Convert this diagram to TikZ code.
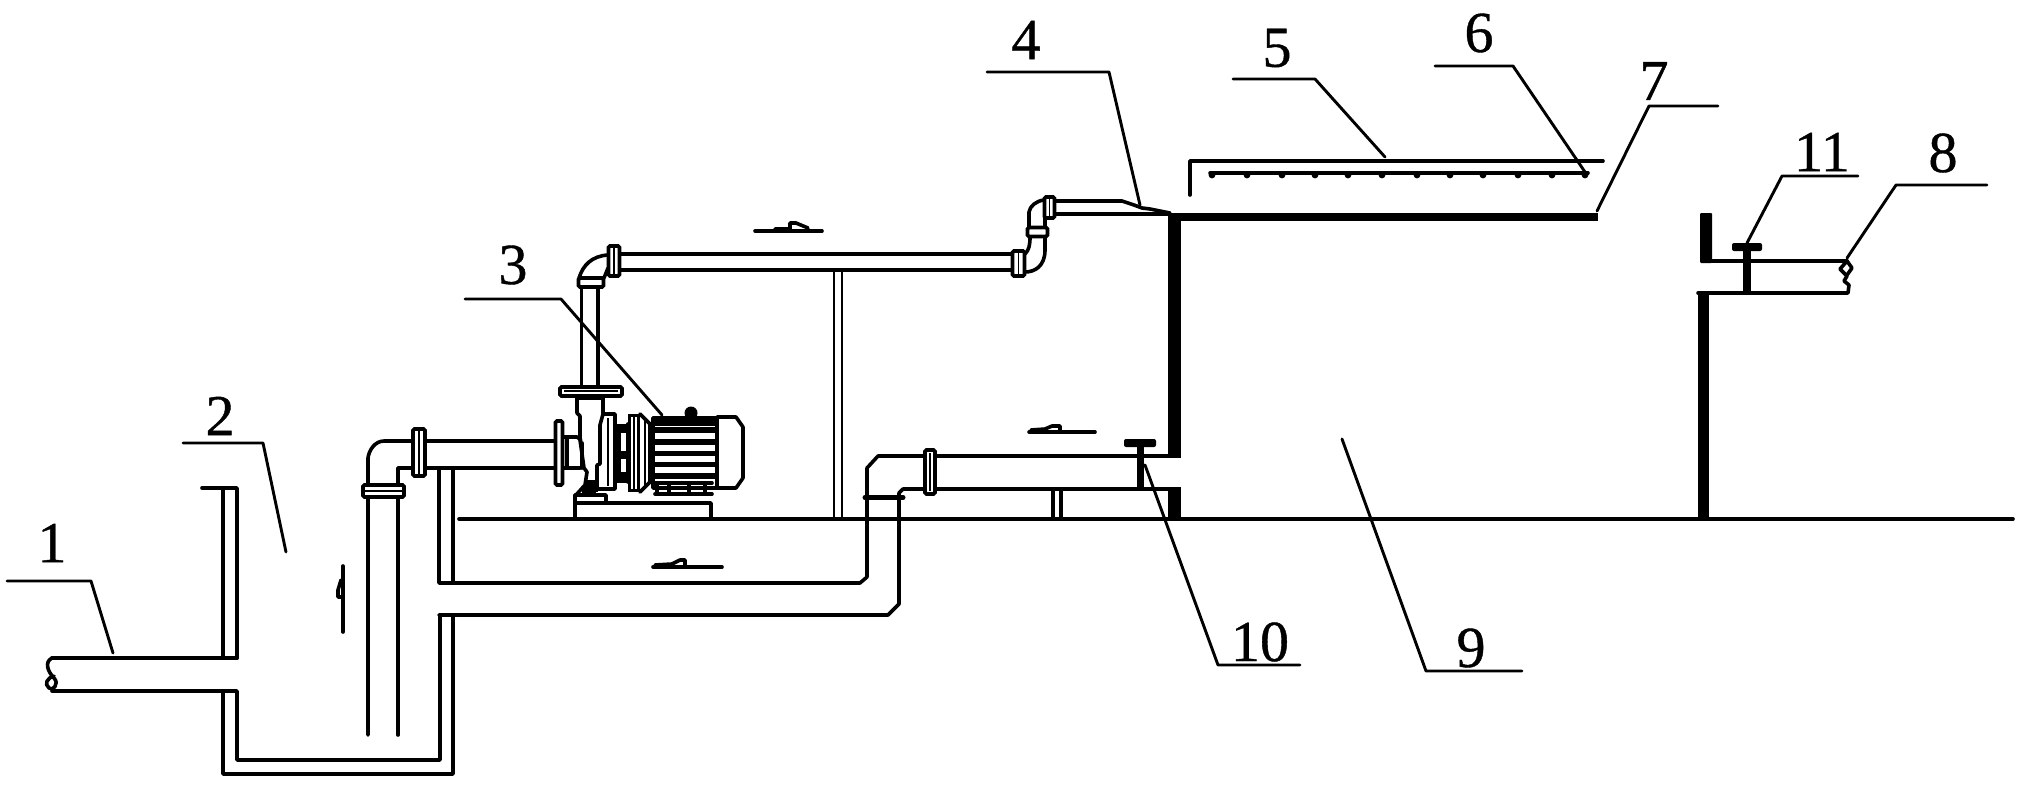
\documentclass[tikz,border=0pt]{standalone}
\usepackage{fontspec}
\setmainfont[FakeBold=0.7]{Liberation Serif}
\tikzset{
  ln/.style={line width=3.6pt,line cap=round,line join=round,draw=black},
  ld/.style={line width=2.9pt,line cap=round,line join=round,draw=black},
  blk/.style={fill=black,draw=black,line width=1pt},
  flg/.style={fill=white,draw=black,line width=3.6pt,rounded corners=1.5pt},
  lab/.style={font=\fontsize{58}{60}\selectfont,inner sep=0pt,text=black}
}
\begin{document}
\begin{tikzpicture}[x=1pt,y=-1pt]
\useasboundingbox (0,0) rectangle (2023,789);
\fill[white] (0,0) rectangle (2023,789);
% ground
\draw[ln] (459,519) -- (2013,519);
% tank and inlet pipe
\draw[ln] (202,488) -- (237,488) -- (237,658);
\draw[ln] (223,488) -- (223,658);
\draw[ln] (52,658) -- (237,658);
\draw[ln] (52,691) -- (237,691) -- (237,760) -- (440,760) -- (440,615);
\draw[ln] (223,691) -- (223,774) -- (453,774) -- (453,615);
\draw[ln] (52,658) .. controls (44,662) and (48,672) .. (54,678) .. controls (60,684) and (52,692) .. (49,688) .. controls (44,684) and (47,678) .. (54,676);
% channels
\draw[ln] (439,615) -- (888,615) -- (899,604) -- (899,493) -- (903,489) -- (1168,489);
\draw[ln] (439,468) -- (439,583) -- (860,583) -- (867,577) -- (867,468) -- (878,456) -- (1168,456);
\draw[ln] (453,468) -- (453,583);
% suction pipe
\draw[ln] (368,735) -- (368,458) .. controls (369,450) and (375,441) .. (384,441) -- (556,441);
\draw[ln] (398,735) -- (398,468) -- (580,468);
\node[flg,minimum width=41pt,minimum height=12pt,inner sep=0pt] (f1) at (383.5,491) {};
\draw[line width=1.6pt] (365,491) -- (403,491);
\node[flg,minimum width=12pt,minimum height=47pt,inner sep=0pt] (f2) at (419,452.5) {};
\draw[line width=1.6pt] (419,431) -- (419,474);
% pump volute
\draw[ln] (562,437) -- (577,437) -- (581,440);
\draw[ln] (567,437) -- (567,468);
\draw[ln] (582,443) -- (582,468);
\node[flg,minimum width=7pt,minimum height=64pt,inner sep=0pt] (f3) at (559,453) {};
\draw[ln] (581.5,287) -- (581.5,387);
\draw[ln] (598,287) -- (598,387);
\draw[ln,line width=3.4pt] (577,398) -- (603,398);
\draw[ln] (577,398) -- (577,413) -- (580,416) -- (580,440) -- (584,468) -- (587,472) -- (585,485) -- (576,495);
\draw[ln] (603,398) -- (603,413);
\node[flg,minimum width=62pt,minimum height=9pt,inner sep=0pt] (f4) at (591,391.5) {};
\draw[line width=1.2pt] (564,391) -- (618,391);
\draw[ln] (600,425) -- (603,414) -- (615,414) -- (615,489) -- (597,489) -- (597,465) -- (600,464) -- cycle;
\draw[line width=1.8pt] (608,418) -- (608,486);
\draw[blk] (585,480) rectangle (597,491);
% coupling
\draw[blk] (615,424) rectangle (628,432);
\draw[blk] (615,451) rectangle (628,458);
\draw[blk] (615,472) rectangle (628,482);
\draw[ln] (619,432) -- (619,472);
\draw[ln] (628,424) -- (628,482);
\fill[black] (628,414) rectangle (640,492);
\fill[white] (631,417) rectangle (632.5,489);
\fill[white] (635,417) rectangle (636.5,489);
\draw[ln] (640,414) -- (652,426) -- (652,480) -- (640,492);
\draw[line width=1.8pt] (645,419) -- (645,486);
\draw[line width=1.8pt] (649,423) -- (649,483);
% motor
\fill[black] (653,418) rectangle (717,479);
\foreach \ya/\yb in {433/438.5,445/450.5,456/461.5,467/473}{\fill[white] (655,\ya) rectangle (717,\yb);}
\fill[white] (655,426) rectangle (717,427);
\draw[ln] (653,418) -- (717,418) -- (717,488) -- (653,488) -- cycle;
\draw[ln] (717,417) -- (736,417) -- (743,427) -- (743,478) -- (736,488) -- (717,488);
\fill[black] (691,413) circle (6.5);
% motor feet and base
\draw[ln] (655,483) -- (712,483);
\draw[ln] (655,494) -- (712,494);
\foreach \xa in {657,669,689,705}{\draw[ln] (\xa,483) -- (\xa,494);}
\draw[ln] (575,519) -- (575,495) -- (606,495) -- (606,503);
\draw[ln] (575,503) -- (711,503) -- (711,519);
\fill[black] (582,486) rectangle (596,497);
% discharge pipe
\draw[ln,line width=4.4pt] (619,254) -- (1013,254);
\draw[ln] (619,270) -- (1013,270);
\draw[ln] (579,278) .. controls (583,265) and (592,256) .. (608,255);
\draw[ln] (604,278) -- (608,268);
\node[flg,minimum width=25pt,minimum height=9pt,inner sep=0pt] (f5) at (591,282.5) {};
\node[flg,minimum width=11pt,minimum height=30pt,inner sep=0pt] (f6) at (614,261) {};
\draw[line width=1.2pt] (614,248) -- (614,274);
\node[flg,minimum width=12pt,minimum height=25pt,inner sep=0pt] (f7) at (1018.5,263.5) {};
\draw[line width=1.2pt] (1018.5,253) -- (1018.5,275);
\draw[ln] (1025,272) .. controls (1035,272) and (1045,266) .. (1045,250) -- (1045,237);
\draw[ln] (1025,254) .. controls (1029,250) and (1030,245) .. (1030,237);
\node[flg,minimum width=20pt,minimum height=9pt,inner sep=0pt] (f8) at (1037.5,232) {};
\draw[ln] (1029,227) -- (1029,212) .. controls (1030,206) and (1036,201) .. (1044,200);
\draw[ln] (1045,227) -- (1045,218);
\node[flg,minimum width=10pt,minimum height=21pt,inner sep=0pt] (f9) at (1049.5,207.5) {};
\draw[line width=1.2pt] (1049.5,199) -- (1049.5,216);
\draw[ln] (1055,201) -- (1122,201) -- (1134,205) -- (1142,208) -- (1150,209) -- (1170,213);
\draw[ln] (1055,214) -- (1168,214);
% support posts
\draw[ln,line width=2.8pt] (834,270) -- (834,519);
\draw[ln,line width=2.8pt] (842,270) -- (842,519);
\draw[ln] (1053,489) -- (1053,519);
\draw[ln] (1061,489) -- (1061,519);
% return flange
\node[flg,minimum width=10pt,minimum height=44pt,inner sep=0pt] (f10) at (930,472) {};
\draw[line width=1.4pt] (930,453) -- (930,491);
\draw[line width=5pt,line cap=round] (865,497.5) -- (903,497.5);
% valve 10
\fill[black] (1137,445) rectangle (1144,489);
\fill[black,rounded corners=2pt] (1124,439) rectangle (1156,447);
% tank wall
\fill[black] (1168,213) rectangle (1181,458);
\fill[black] (1168,487) rectangle (1181,519);
\fill[black] (1168,213) rectangle (1598,221);
% cover and spray
\draw[ln] (1190,195) -- (1190,161) -- (1603,161);
\draw[ln] (1210,173) -- (1588,173);
\foreach \xa in {1212,1247,1282,1315,1348,1382,1417,1450,1483,1518,1552,1585}{\fill[black] (\xa,175) circle (3.4);}
% right wall and outlet
\fill[black,rounded corners=1pt] (1700,213) rectangle (1712,263);
\fill[black] (1698,293) rectangle (1709,519);
\draw[ln] (1710,261) -- (1847,261);
\draw[ln] (1698,293) -- (1847,293);
\fill[black] (1743,247) rectangle (1751,293);
\fill[black,rounded corners=2pt] (1732,243) rectangle (1762,251);
\draw[ln] (1847,261) -- (1840,269) -- (1847,276) -- (1844,281) -- (1849,285) -- (1848,293);
\draw[ln] (1847,261) -- (1852,268) -- (1847,275);
% flow arrows
\draw[ln] (755,231) -- (822,231);
\draw[ln,fill=white] (775,229) -- (790,229) -- (790,223) -- (796,223) -- (808,228);
\draw[ln] (653,567) -- (722,567);
\draw[ln] (655,565) -- (672,564) -- (680,560) -- (685,560) -- (685,565);
\draw[ln] (1029,432) -- (1095,432);
\draw[ln] (1031,430) -- (1045,429) -- (1052,426) -- (1060,426) -- (1060,431);
\draw[ln] (343,566) -- (343,632);
\draw[ln] (341,580) -- (338,590) -- (338,597) -- (341,597);
% labels
\node[lab] (n1) at (52,543) {1};
\node[lab] (n2) at (220,416) {2};
\node[lab] (n3) at (513,265) {3};
\node[lab] (n4) at (1026,40) {4};
\node[lab] (n5) at (1277,48) {5};
\node[lab] (n6) at (1479,33) {6};
\node[lab] (n7) at (1654,81) {7};
\node[lab] (n8) at (1943,153) {8};
\node[lab] (n9) at (1471,648) {9};
\node[lab] (n10) at (1260,642) {10};
\node[lab] (n11) at (1822,152) {11};
% leaders
\coordinate (a1) at (7,581); \coordinate (b1) at (91,581); \coordinate (c1) at (113,653);
\coordinate (a2) at (183,443); \coordinate (b2) at (263,443); \coordinate (c2) at (286,552);
\coordinate (a3) at (465,299); \coordinate (b3) at (561,299); \coordinate (c3) at (662,415);
\coordinate (a4) at (987,72); \coordinate (b4) at (1109,72); \coordinate (c4) at (1140,205);
\coordinate (a5) at (1233,79); \coordinate (b5) at (1315,79); \coordinate (c5) at (1385,157);
\coordinate (a6) at (1435,66); \coordinate (b6) at (1513,66); \coordinate (c6) at (1585,172);
\coordinate (a7) at (1718,106); \coordinate (b7) at (1649,106); \coordinate (c7) at (1597,211);
\coordinate (a8) at (1987,185); \coordinate (b8) at (1896,185); \coordinate (c8) at (1847,258);
\coordinate (a9) at (1522,671); \coordinate (b9) at (1426,671); \coordinate (c9) at (1342,439);
\coordinate (a10) at (1300,665); \coordinate (b10) at (1218,665); \coordinate (c10) at (1145,465);
\coordinate (a11) at (1858,176); \coordinate (b11) at (1782,176); \coordinate (c11) at (1747,243);
\foreach \k in {1,...,11}{\draw[ld] (a\k) -- (b\k) -- (c\k);}
\end{tikzpicture}
\end{document}
